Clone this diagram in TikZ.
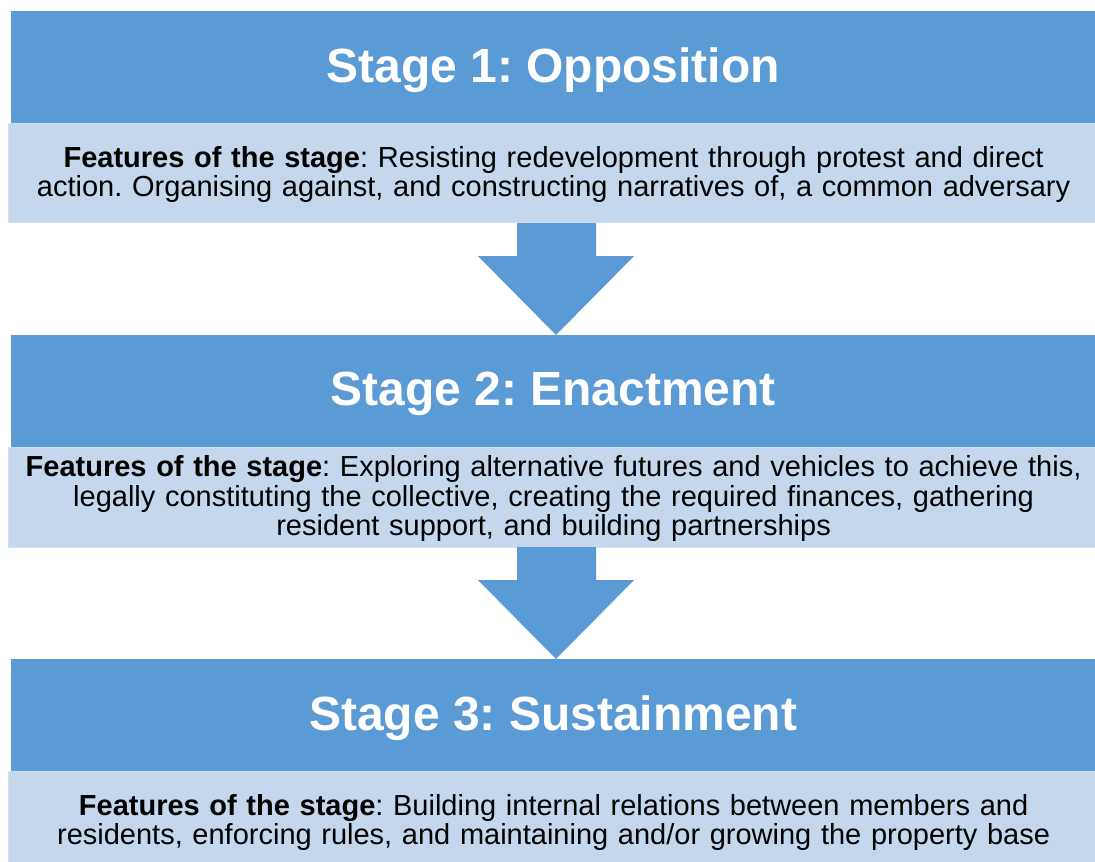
\documentclass[tikz,border=0pt]{standalone}
\usepackage{fontspec}
\setmainfont{Liberation Sans}
\frenchspacing
\definecolor{hdrblue}{HTML}{5B9BD5}
\definecolor{lightblue}{HTML}{C5D7EC}
\definecolor{edgeblue}{HTML}{D3E0F0}
\begin{document}
\begin{tikzpicture}[x=1pt,y=-1pt,
  header/.style={anchor=north west,fill=hdrblue,draw=none,inner sep=0pt,
    minimum width=1084pt,minimum height=112pt},
  headtext/.style={text=white,inner sep=0pt,
    font=\fontsize{48}{55}\selectfont\bfseries},
  body/.style={anchor=north west,fill=lightblue,draw=edgeblue,line width=1.2pt,inner sep=0pt,
    minimum width=1090pt},
  bodytext/.style={inner sep=0pt,text width=1085pt,align=center,
    font=\fontsize{29}{29.5}\selectfont},
  blockarrow/.style={fill=hdrblue,draw=none}]
\useasboundingbox (0,0) rectangle (1095,862);
\fill[white] (0,0) rectangle (1095,862);
% stage 1
\node[header] (h1) at (11,11) {};
\node[headtext] (t1) at ([yshift=-3pt]h1.center) {Stage 1: Opposition};
\node[body,minimum height=99pt] (b1) at (8,123) {};
\node[bodytext] (x1) at ([yshift=-1.5pt]b1.center) {\textbf{Features of the stage}: Resisting redevelopment through protest and direct\\ action. Organising against, and constructing narratives of, a common adversary};
% arrow 1
\fill[blockarrow] (517,223) -- (596,223) -- (596,256) -- (634,256) -- (556,335) -- (478,256) -- (517,256) -- cycle;
% stage 2
\node[header] (h2) at (11,335) {};
\node[headtext] (t2) at ([yshift=-3pt]h2.center) {Stage 2: Enactment};
\node[body,minimum height=100pt] (b2) at (8,447) {};
\node[bodytext] (x2) at ([yshift=-1pt]b2.center) {\textbf{Features of the stage}: Exploring alternative futures and vehicles to achieve this,\\ legally constituting the collective, creating the required finances, gathering\\ resident support, and building partnerships};
% arrow 2
\fill[blockarrow] (517,547) -- (596,547) -- (596,580) -- (634,580) -- (556,659) -- (478,580) -- (517,580) -- cycle;
% stage 3
\node[header] (h3) at (11,659) {};
\node[headtext] (t3) at ([yshift=-3pt]h3.center) {Stage 3: Sustainment};
\node[body,minimum height=99pt] (b3) at (8,771) {};
\node[bodytext] (x3) at ([yshift=-1.5pt]b3.center) {\textbf{Features of the stage}: Building internal relations between members and\\ residents, enforcing rules, and maintaining and/or growing the property base};
\end{tikzpicture}
\end{document}
